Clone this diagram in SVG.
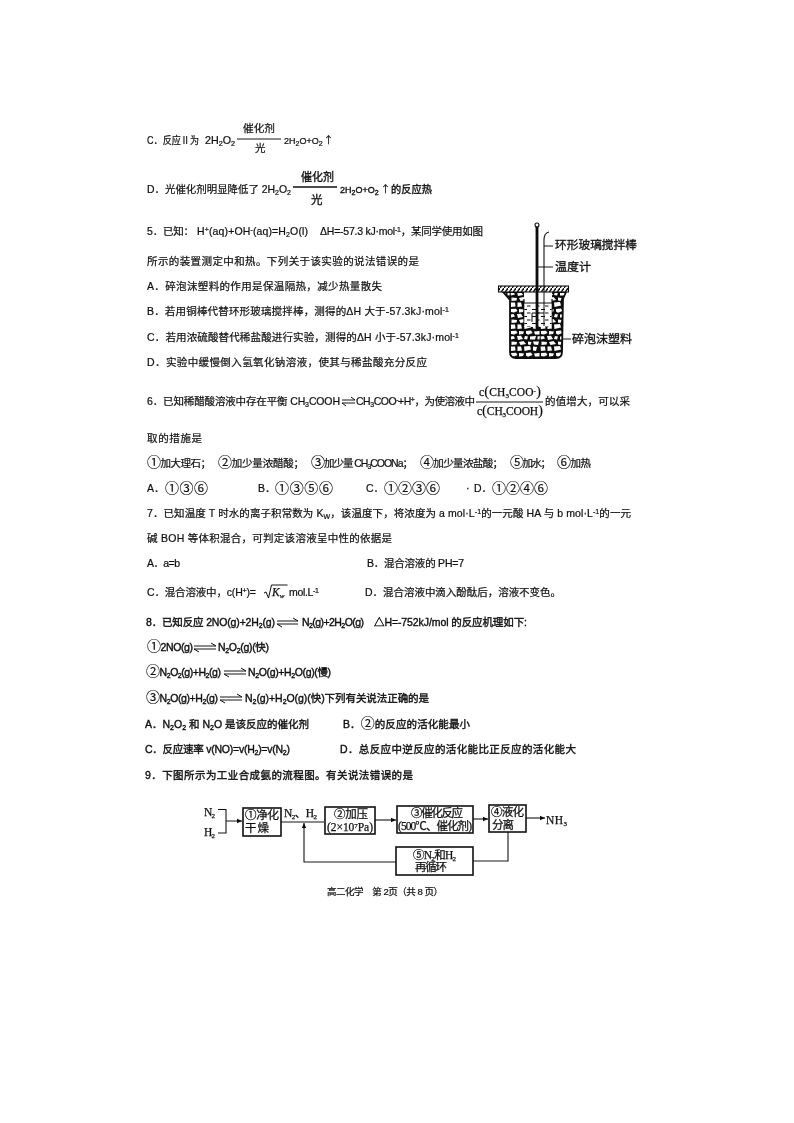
<svg xmlns="http://www.w3.org/2000/svg" width="794" height="1123" viewBox="0 0 794 1123">
<style>
text{font-family:"Liberation Sans","Noto Sans CJK SC",sans-serif;font-size:10.5px;fill:#111;stroke:#111;stroke-width:.22px}
.b{font-size:11.5px;stroke-width:.35px}
.n{font-size:9px}
.nb{font-size:9px;stroke-width:.35px}
.f{font-family:"Liberation Serif","Noto Sans CJK SC",serif;font-size:11.5px;stroke-width:.25px}
.s{font-size:7px;baseline-shift:-2px}
.u{font-size:7px;baseline-shift:3.5px}
.c{font-size:14px;stroke-width:.15px}
.p{font-size:15px;stroke-width:.1px}
.ar{font-family:"Noto Sans CJK SC",sans-serif;font-size:10px}
.h{stroke-width:.38px}
.eq{fill:none;stroke:#111;stroke-width:1}
.box{fill:#fff;stroke:#111;stroke-width:1.6}
.cn{fill:none;stroke:#111;stroke-width:1.1}
.lb{font-size:11.5px;stroke-width:.3px}
</style>
<defs>
<filter id="scan" x="0" y="0" width="1" height="1"><feGaussianBlur stdDeviation=".35"/></filter>
<marker id="ah" markerUnits="userSpaceOnUse" markerWidth="6" markerHeight="6" refX="5" refY="3" orient="auto"><path d="M0,.8L5,3L0,5.2z" fill="#111"/></marker>
<pattern id="foam" width="30" height="22" patternUnits="userSpaceOnUse">
<rect width="30" height="22" fill="#111"/>
<g fill="#fff"><path d="M1,1L6,.8L7.500,3L4,4.500L1,4z"/><path d="M9,1L14,1.500L13,4L9,4.500z"/><path d="M16,1L21,.5L22.500,3L18,4.800L16,3.500z"/><path d="M24,1.500L29.500,1L29.500,4.500L25,4.500z"/><path d="M.5,6.500L3.500,6L5,8.500L1,9.500z"/><path d="M7,6L11,5.800L13,9L8,10z"/><path d="M15,6L18,6.500L17,9.500L14,9z"/><path d="M20,6.500L26,6L25,9.500L20,9.500z"/><path d="M27.500,6.500L29.800,6L29.500,9.500L27.500,9.300z"/><path d="M1.500,11.500L7,12L6.500,14.500L1.500,15z"/><path d="M9,12L13.500,11L16,14L10.500,15z"/><path d="M18,11.500L21.500,12L20.500,15L18,14.500z"/><path d="M23,11.500L29,11.500L28,15L24,14.500z"/><path d="M.5,16.500L5,16.500L5.500,20.500L1,21z"/><path d="M7.500,16.500L11,16.500L12,20.500L7.500,21z"/><path d="M14,16.500L20,16L21,19.500L14.500,21z"/><path d="M23,16.500L27,17L26,21L23,20.500z"/></g>
</pattern>
<pattern id="liq" width="9" height="7" patternUnits="userSpaceOnUse">
<rect width="9" height="7" fill="#fff"/><path d="M1,1.500h4M5,5h3.500" stroke="#111" stroke-width="1.200"/>
</pattern>
<pattern id="hat" width="4" height="6" patternUnits="userSpaceOnUse">
<rect width="4" height="6" fill="#fff"/><path d="M0,6L4,0" stroke="#111" stroke-width="1.500"/>
</pattern>
</defs>
<rect width="794" height="1123" fill="#fff"/>
<g id="page" filter="url(#scan)">

<g id="optC4">
<text x="147" y="144" textLength="52" lengthAdjust="spacingAndGlyphs">C．反应Ⅱ为</text>
<text x="205" y="144" textLength="30" lengthAdjust="spacingAndGlyphs">2H<tspan class="s">2</tspan>O<tspan class="s">2</tspan></text>
<path d="M237,139H281" class="eq"/>
<text x="243" y="132" textLength="32" lengthAdjust="spacingAndGlyphs">催化剂</text>
<text x="255" y="152">光</text>
<text x="284" y="144" class="n">2H<tspan class="s">2</tspan>O+O<tspan class="s">2</tspan></text>
<text x="323.500" y="144" class="ar">↑</text>
</g>
<g id="optD4">
<text x="147" y="193" textLength="144" lengthAdjust="spacingAndGlyphs">D．光催化剂明显降低了 2H<tspan class="s">2</tspan>O<tspan class="s">2</tspan></text>
<path d="M293,187H337" stroke="#111" stroke-width="1.500" fill="none"/>
<text x="301" y="181" class="b" textLength="33" lengthAdjust="spacingAndGlyphs">催化剂</text>
<text x="311" y="204" class="b">光</text>
<text x="340" y="193" class="nb">2H<tspan class="s">2</tspan>O+O<tspan class="s">2</tspan></text>
<text x="380.500" y="193" class="ar">↑</text>
<text x="391" y="193" textLength="41" style="font-size:10.2px;stroke-width:.35px">的反应热</text>
</g>
<g id="q5">
<text x="147" y="235" textLength="47">5．已知：</text>
<text x="197" y="235" textLength="111">H<tspan class="u">+</tspan>(aq)+OH<tspan class="u">-</tspan>(aq)=H<tspan class="s">2</tspan>O(l)</text>
<text x="320" y="235" textLength="163">ΔH=-57.3 kJ·mol<tspan class="u">-1</tspan>，某同学使用如图</text>
<text x="147" y="265" textLength="272">所示的装置测定中和热。下列关于该实验的说法错误的是</text>
<text x="147" y="290" textLength="235">A．碎泡沫塑料的作用是保温隔热，减少热量散失</text>
<text x="147" y="315" textLength="302">B．若用铜棒代替环形玻璃搅拌棒，测得的ΔH 大于-57.3kJ·mol<tspan class="u">-1</tspan></text>
<text x="147" y="341" textLength="312">C．若用浓硫酸替代稀盐酸进行实验，测得的ΔH 小于-57.3kJ·mol<tspan class="u">-1</tspan></text>
<text x="147" y="366" textLength="280">D．实验中缓慢倒入氢氧化钠溶液，使其与稀盐酸充分反应</text>
</g>
<g id="calorimeter">
<path d="M503,292L510,300L510,352Q510,358 516,358L556,358Q562,358 562,352L563,299L566,292z" fill="url(#foam)" stroke="#111" stroke-width="1.800"/>
<path d="M524,292V326H552V292z" fill="#fff"/>
<path d="M524,299V326M552,299V326" fill="none" stroke="#111" stroke-width="1.200"/>
<rect x="524.500" y="303" width="27" height="24" fill="url(#liq)"/>
<path d="M524,303H552" stroke="#111" stroke-width="1"/>
<rect x="498.500" y="286" width="70" height="6" fill="url(#hat)" stroke="#111" stroke-width="1.100"/>
<circle cx="537" cy="225" r="2" fill="#fff" stroke="#111" stroke-width="1.100"/>
<path d="M537,227V330" stroke="#111" stroke-width="2.800" fill="none"/>
<path d="M549,232Q544,233 544,240V290" stroke="#111" stroke-width="1.100" fill="none"/>
<path d="M544,290V313H532V322M544,313V326" stroke="#111" stroke-width="1" fill="none"/>
<path d="M544,246H553M538,267H553M562,339H571" stroke="#111" stroke-width="1.100" fill="none"/>
<text x="555" y="249" class="lb" textLength="82" lengthAdjust="spacingAndGlyphs">环形玻璃搅拌棒</text>
<text x="555" y="271" class="lb" textLength="36" lengthAdjust="spacingAndGlyphs">温度计</text>
<text x="572" y="343" class="lb" textLength="60" lengthAdjust="spacingAndGlyphs">碎泡沫塑料</text>
</g>
<g id="q6">
<text x="147" y="405" textLength="193">6．已知稀醋酸溶液中存在平衡 CH<tspan class="s">3</tspan>COOH</text>
<path d="M342,400H355L351,397M355,403H342L346,406" class="eq"/>
<text x="356" y="405" textLength="119">CH<tspan class="s">3</tspan>COO<tspan class="u">-</tspan>+H<tspan class="u">+</tspan>，为使溶液中</text>
<path d="M476,402H543" class="eq"/>
<text x="479" y="396" class="f" textLength="62">c<tspan class="p">(</tspan>CH<tspan class="s">3</tspan>COO<tspan class="u">-</tspan><tspan class="p">)</tspan></text>
<text x="477" y="415" class="f" textLength="66">c<tspan class="p">(</tspan>CH<tspan class="s">3</tspan>COOH<tspan class="p">)</tspan></text>
<text x="545" y="405" textLength="85">的值增大，可以采</text>
<text x="147" y="442" textLength="55">取的措施是</text>
<text x="147" y="467" textLength="64"><tspan class="c">①</tspan>加大理石；</text>
<text x="218" y="467" textLength="86"><tspan class="c">②</tspan>加少量浓醋酸；</text>
<text x="311" y="467" textLength="102"><tspan class="c">③</tspan>加少量 CH<tspan class="s">3</tspan>COONa；</text>
<text x="420" y="467" textLength="83"><tspan class="c">④</tspan>加少量浓盐酸；</text>
<text x="510" y="467" textLength="41"><tspan class="c">⑤</tspan>加水；</text>
<text x="557" y="467" textLength="34"><tspan class="c">⑥</tspan>加热</text>
<text x="147" y="492">A．</text><text x="165" y="493" class="c" textLength="43">①③⑥</text>
<text x="258" y="492">B．</text><text x="275" y="493" class="c" textLength="58">①③⑤⑥</text>
<text x="366" y="492">C．</text><text x="384" y="493" class="c" textLength="56">①②③⑥</text>
<text x="466" y="492">·</text><text x="474" y="492">D．</text><text x="492" y="493" class="c" textLength="56">①②④⑥</text>
</g>
<g id="q7">
<text x="147" y="517" textLength="484">7．已知温度 T 时水的离子积常数为 K<tspan class="s">W</tspan>，该温度下，将浓度为 a mol·L<tspan class="u">-1</tspan>的一元酸 HA 与 b mol·L<tspan class="u">-1</tspan>的一元</text>
<text x="147" y="542" textLength="245">碱 BOH 等体积混合，可判定该溶液呈中性的依据是</text>
<text x="147" y="567" textLength="33">A．a=b</text>
<text x="367" y="567" textLength="97">B．混合溶液的 PH=7</text>
<text x="147" y="596" textLength="109">C．混合溶液中，c(H<tspan class="u">+</tspan>)=</text>
<path d="M264,593l2,-1l2.500,6l3,-13h16" class="eq"/>
<text x="272" y="596" class="f" font-style="italic">K<tspan class="s">w</tspan></text>
<text x="289" y="596" textLength="30">mol.L<tspan class="u">-1</tspan></text>
<text x="365" y="596" textLength="196">D．混合溶液中滴入酚酞后，溶液不变色。</text>
</g>
<g id="q8">
<text x="146" y="626" textLength="129" class="h">8．已知反应 2NO(g)+2H<tspan class="s">2</tspan>(g)</text>
<path d="M277,621H298L293,618M298,624H277L282,627" class="eq"/>
<text x="302" y="626" textLength="62" class="h">N<tspan class="s">2</tspan>(g)+2H<tspan class="s">2</tspan>O(g)</text>
<text x="374" y="626" textLength="153" class="h">△H=-752kJ/mol 的反应机理如下:</text>
<text x="147" y="651" textLength="46" class="h"><tspan class="c">①</tspan>2NO(g)</text>
<path d="M194,646H216L211,643M216,649H194L199,652" class="eq"/>
<text x="218" y="651" textLength="51" class="h">N<tspan class="s">2</tspan>O<tspan class="s">2</tspan>(g)(快)</text>
<text x="146" y="676" textLength="75" class="h"><tspan class="c">②</tspan>N<tspan class="s">2</tspan>O<tspan class="s">2</tspan>(g)+H<tspan class="s">2</tspan>(g)</text>
<path d="M224,671H246L241,668M246,674H224L229,677" class="eq"/>
<text x="248" y="676" textLength="83" class="h">N<tspan class="s">2</tspan>O(g)+H<tspan class="s">2</tspan>O(g)(慢)</text>
<text x="146" y="702" textLength="72" class="h"><tspan class="c">③</tspan>N<tspan class="s">2</tspan>O(g)+H<tspan class="s">2</tspan>(g)</text>
<path d="M220,697H242L237,694M242,700H220L225,703" class="eq"/>
<text x="245" y="702" textLength="184" class="h">N<tspan class="s">2</tspan>(g)+H<tspan class="s">2</tspan>O(g)(快)下列有关说法正确的是</text>
<text x="145" y="728" textLength="164" class="h">A．N<tspan class="s">2</tspan>O<tspan class="s">2</tspan> 和 N<tspan class="s">2</tspan>O 是该反应的催化剂</text>
<text x="343" y="728" textLength="127" class="h">B．<tspan class="c">②</tspan>的反应的活化能最小</text>
<text x="145" y="753" textLength="145" class="h">C．反应速率 v(NO)=v(H<tspan class="s">2</tspan>)=v(N<tspan class="s">2</tspan>)</text>
<text x="340" y="753" textLength="236" class="h">D．总反应中逆反应的活化能比正反应的活化能大</text>
<text x="145" y="779" textLength="268" class="h">9．下图所示为工业合成氨的流程图。有关说法错误的是</text>
</g>
<g id="connectors">
<path d="M218,809.500H226V833H218M226,821H242" class="cn" marker-end="url(#ah)"/>
<path d="M281,822H324" class="cn"/>
<path d="M375,820H396" class="cn" marker-end="url(#ah)"/>
<path d="M473,819H488" class="cn" marker-end="url(#ah)"/>
<path d="M526,818H545" class="cn" marker-end="url(#ah)"/>
<path d="M508,832V861H473" class="cn"/>
<path d="M396,862H304V823" class="cn" marker-end="url(#ah)"/>
</g>
<g id="n2h2"><text x="204" y="816" class="f" textLength="11">N<tspan class="s">2</tspan></text><text x="204" y="836" class="f" textLength="11">H<tspan class="s">2</tspan></text></g>
<g id="label-mix"><text x="284" y="817" class="f" textLength="33">N<tspan class="s">2</tspan>、H<tspan class="s">2</tspan></text></g>
<g id="n1"><rect x="243" y="808" width="38" height="28" class="box"/><text x="245" y="819" class="f" textLength="34">①净化</text><text x="245" y="832" class="f" textLength="24">干燥</text></g>
<g id="n2"><rect x="325" y="807" width="50" height="27" class="box"/><text x="334" y="818" class="f" textLength="34">②加压</text><text x="327" y="831" class="f" textLength="46">(2×10<tspan class="u">7</tspan>Pa)</text></g>
<g id="n3"><rect x="397" y="806" width="76" height="27" class="box"/><text x="411" y="817" class="f" textLength="52">③催化反应</text><text x="398" y="830" class="f" textLength="74">(500℃、催化剂)</text></g>
<g id="n4"><rect x="489" y="805" width="37" height="27" class="box"/><text x="491" y="816" class="f" textLength="33">④液化</text><text x="492" y="829" class="f" textLength="22">分离</text></g>
<g id="n5"><rect x="396" y="847" width="77" height="28" class="box"/><text x="413" y="859" class="f" textLength="43">⑤N<tspan class="s">2</tspan>和H<tspan class="s">2</tspan></text><text x="415" y="871" class="f" textLength="32">再循环</text></g>
<g id="nh3"><text x="546" y="824" class="f" textLength="21">NH<tspan class="s">3</tspan></text></g>
<g id="footer"><text x="327" y="895" style="font-size:9.500px" textLength="116">高二化学　第 2页（共 8 页）</text></g>
</g>
</svg>
